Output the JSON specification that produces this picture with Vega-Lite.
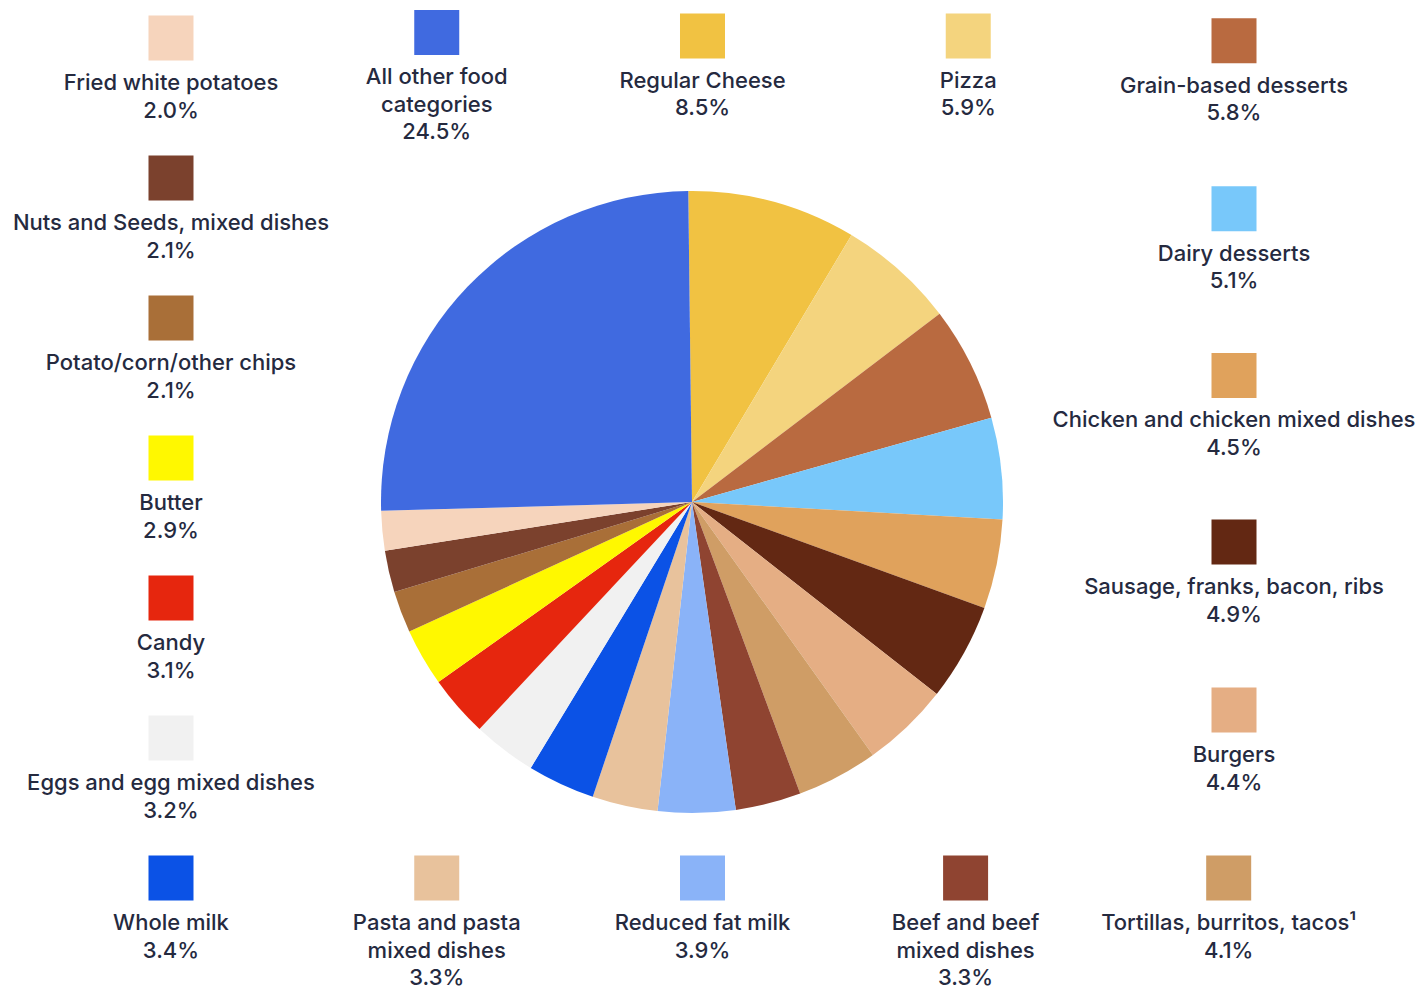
{
  "$schema": "https://vega.github.io/schema/vega-lite/v6.json",
  "width": 1384,
  "height": 970,
  "autosize": {"type": "none"},
  "padding": {"left": 0, "top": 17, "right": 41, "bottom": 0},
  "background": "white",
  "config": {"view": {"stroke": null}},
  "data": {
    "values": [
      {"idx": 1, "label": "Regular Cheese", "value": 8.5, "col": 2, "row": -0.015},
      {"idx": 2, "label": "Pizza", "value": 5.9, "col": 3, "row": -0.015},
      {"idx": 3, "label": "Grain-based desserts", "value": 5.8, "col": 4, "row": 0.02},
      {"idx": 4, "label": "Dairy desserts", "value": 5.1, "col": 4, "row": 1.22},
      {"idx": 5, "label": "Chicken and chicken mixed dishes", "value": 4.5, "col": 4, "row": 2.41},
      {"idx": 6, "label": "Sausage, franks, bacon, ribs", "value": 4.9, "col": 4, "row": 3.6},
      {"idx": 7, "label": "Burgers", "value": 4.4, "col": 4, "row": 4.8},
      {"idx": 8, "label": "Tortillas, burritos, tacos¹", "value": 4.1, "col": 3.98, "row": 6},
      {"idx": 9, "label": "Beef and beef|mixed dishes", "value": 3.3, "col": 2.99, "row": 6},
      {"idx": 10, "label": "Reduced fat milk", "value": 3.9, "col": 2, "row": 6},
      {"idx": 11, "label": "Pasta and pasta|mixed dishes", "value": 3.3, "col": 1, "row": 6},
      {"idx": 12, "label": "Whole milk", "value": 3.4, "col": 0, "row": 6},
      {"idx": 13, "label": "Eggs and egg mixed dishes", "value": 3.2, "col": 0, "row": 5},
      {"idx": 14, "label": "Candy", "value": 3.1, "col": 0, "row": 4},
      {"idx": 15, "label": "Butter", "value": 2.9, "col": 0, "row": 3},
      {"idx": 16, "label": "Potato/corn/other chips", "value": 2.1, "col": 0, "row": 2},
      {"idx": 17, "label": "Nuts and Seeds, mixed dishes", "value": 2.1, "col": 0, "row": 1},
      {"idx": 18, "label": "Fried white potatoes", "value": 2.0, "col": 0, "row": 0},
      {"idx": 19, "label": "All other food|categories", "value": 24.5, "col": 1, "row": -0.04}
    ]
  },
  "transform": [
    {"calculate": "datum.label + '|' + format(datum.value, '.1f') + '%'", "as": "text"}
  ],
  "encoding": {
    "color": {
      "field": "label",
      "type": "nominal",
      "legend": null,
      "scale": {
        "domain": ["Regular Cheese", "Pizza", "Grain-based desserts", "Dairy desserts", "Chicken and chicken mixed dishes", "Sausage, franks, bacon, ribs", "Burgers", "Tortillas, burritos, tacos¹", "Beef and beef|mixed dishes", "Reduced fat milk", "Pasta and pasta|mixed dishes", "Whole milk", "Eggs and egg mixed dishes", "Candy", "Butter", "Potato/corn/other chips", "Nuts and Seeds, mixed dishes", "Fried white potatoes", "All other food|categories"],
        "range": ["#f1c242", "#f4d47e", "#b96a40", "#78c8fa", "#e0a25c", "#632813", "#e5ae84", "#cf9d66", "#8f4431", "#8ab3f8", "#e8c29c", "#0b52e6", "#f1f1f1", "#e6260e", "#fff800", "#a96f38", "#7b412d", "#f6d4bc", "#406ae0"]
      }
    }
  },
  "layer": [
    {
      "mark": {"type": "arc", "radius": 311, "strokeWidth": 0},
      "encoding": {
        "theta": {"field": "value", "type": "quantitative", "stack": true, "scale": {"range": [-0.012, 6.2712]}},
        "order": {"field": "idx", "type": "quantitative"}
      }
    },
    {
      "mark": {"type": "square", "size": 2025, "filled": true, "opacity": 1},
      "encoding": {
        "x": {"field": "col", "type": "quantitative", "axis": null, "scale": {"domain": [-0.64346, 4.56444], "nice": false, "zero": false}},
        "y": {"field": "row", "type": "quantitative", "axis": null, "scale": {"domain": [-0.15, 6.77857], "reverse": true, "nice": false, "zero": false}}
      }
    },
    {
      "mark": {"type": "text", "lineBreak": "|", "baseline": "alphabetic", "align": "center", "dy": 52, "lineHeight": 27.5, "font": "Inter", "fontSize": 22, "fontWeight": 500, "color": "#252a3f"},
      "encoding": {
        "x": {"field": "col", "type": "quantitative", "axis": null},
        "y": {"field": "row", "type": "quantitative", "axis": null},
        "text": {"field": "text", "type": "nominal"},
        "color": {"value": "#252a3f"}
      }
    }
  ]
}
